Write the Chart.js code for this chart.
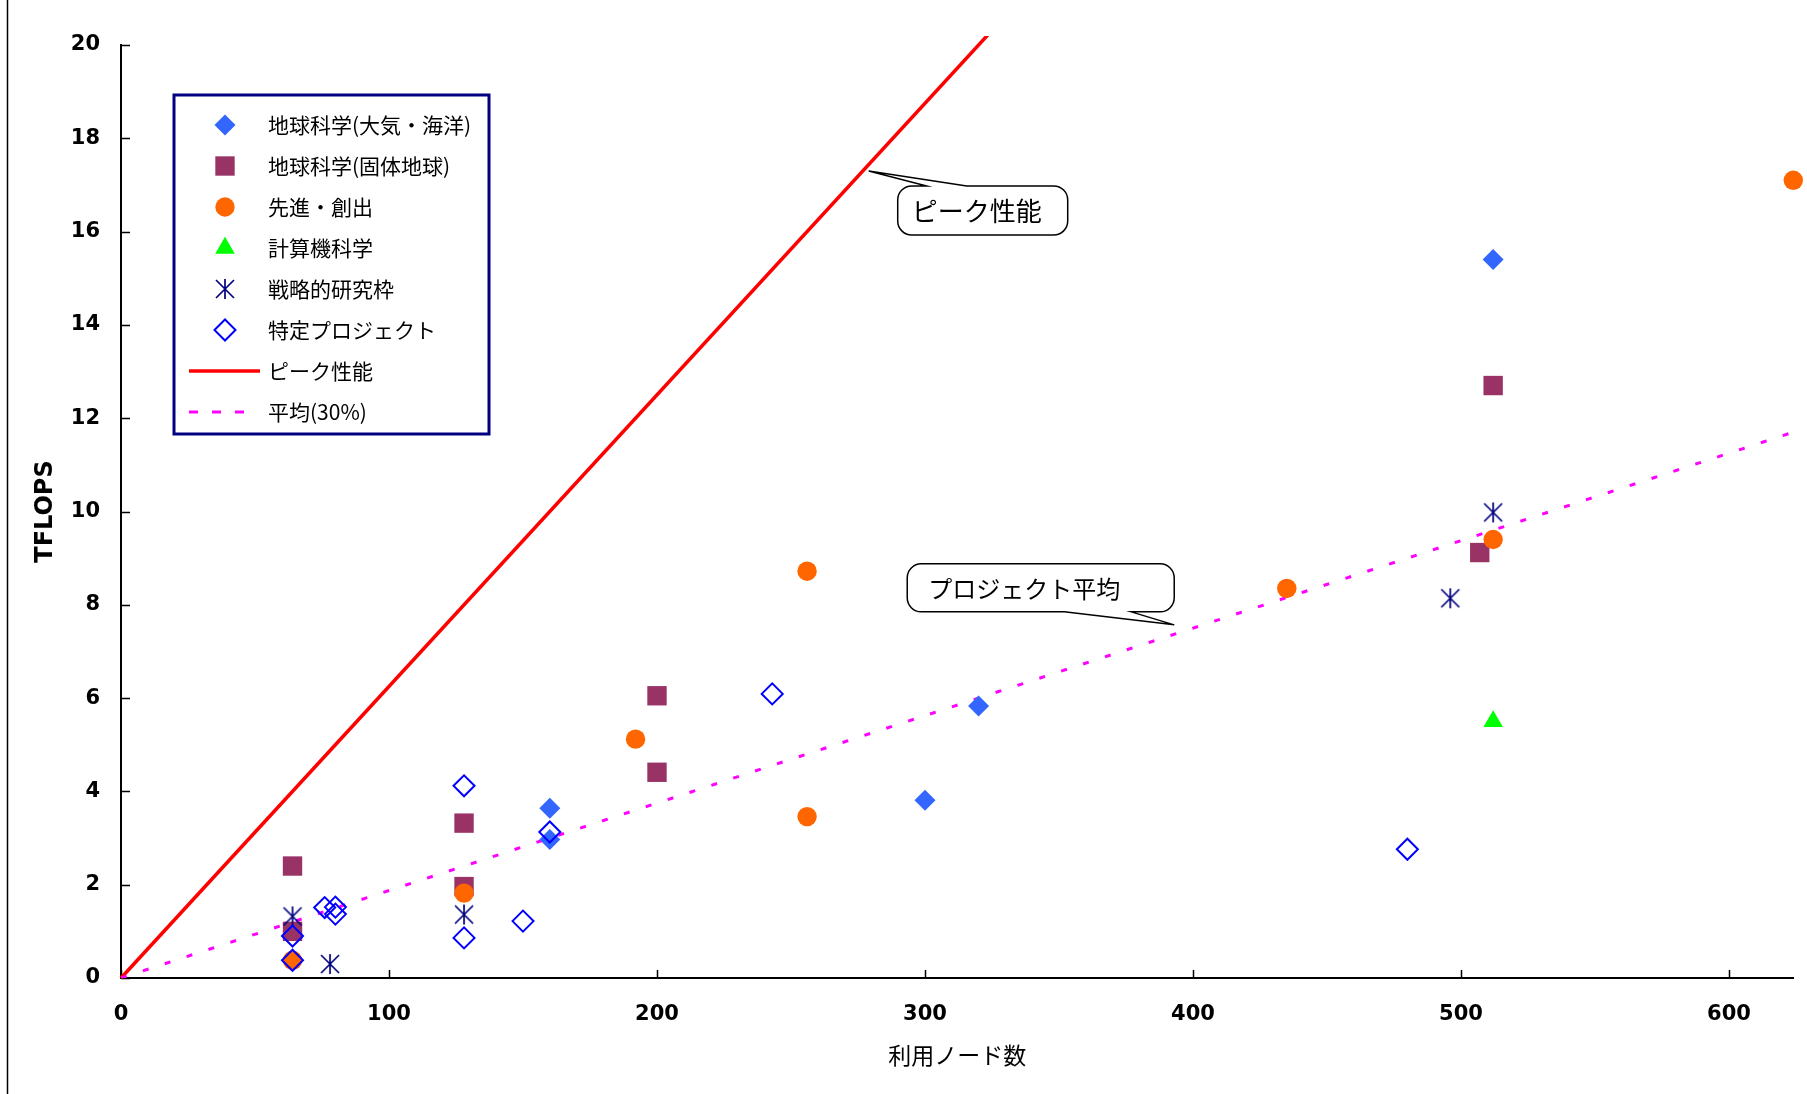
<!DOCTYPE html>
<html lang="ja">
<head>
<meta charset="utf-8">
<title>利用ノード数とTFLOPS</title>
<script src="https://cdn.jsdelivr.net/npm/chart.js@4.4.1/dist/chart.umd.min.js"></script>
<style>
  html, body { margin: 0; padding: 0; background: #fff; }
  canvas { display: block; }
</style>
</head>
<body>
<canvas id="graph" width="1807" height="1094"></canvas>
<script>
// 利用ノード数 (x) と実効性能 TFLOPS (y)
const atmoNodes = [512, 320, 300, 160, 160];
const atmoTflops = [15.4, 5.83, 3.81, 3.64, 2.97];

const solidNodes = [512, 507, 200, 200, 128, 128, 64, 64];
const solidTflops = [12.7, 9.12, 6.05, 4.41, 3.32, 1.96, 2.4, 1.0];

const frontierNodes = [624, 512, 435, 256, 256, 192, 128, 64];
const frontierTflops = [17.1, 9.4, 8.35, 8.72, 3.46, 5.12, 1.82, 0.38];

const computerNodes = [512];
const computerTflops = [5.5];

const strategicNodes = [512, 496, 128, 64, 78];
const strategicTflops = [9.98, 8.14, 1.36, 1.32, 0.3];

const specialNodes = [480, 243, 160, 128, 128, 150, 76, 80, 80, 64, 64];
const specialTflops = [2.76, 6.09, 3.13, 4.12, 0.86, 1.22, 1.51, 1.52, 1.37, 0.9, 0.38];

const peakNodes = [0, 336];
const peakTflops = [0, 21];

const avgNodes = [0, 624];
const avgTflops = [0, 11.7];

const seriesNames = [
    '地球科学(大気・海洋)', '地球科学(固体地球)', '先進・創出', '計算機科学',
    '戦略的研究枠', '特定プロジェクト', 'ピーク性能', '平均(30%)'
];

function toPoints(xs, ys) {
    return xs.map((x, i) => ({ x: x, y: ys[i] }));
}

// Excelの「*」マーカー（縦線＋×）
function makeAsterisk(size, color) {
    const c = document.createElement('canvas');
    c.width = size;
    c.height = size;
    const g = c.getContext('2d');
    g.strokeStyle = color;
    g.lineWidth = 1.7;
    const m = size / 2, r = size / 2 - 1;
    g.beginPath();
    g.moveTo(m, m - r); g.lineTo(m, m + r);
    g.moveTo(m - r * 0.9, m - r * 0.9); g.lineTo(m + r * 0.9, m + r * 0.9);
    g.moveTo(m + r * 0.9, m - r * 0.9); g.lineTo(m - r * 0.9, m + r * 0.9);
    g.stroke();
    return c;
}
const asterisk = makeAsterisk(22, '#000080');

// 吹き出し
const calloutList = [
    { text: 'ピーク性能', x: 279, y: 17.3, dx: 29, dy: 15, w: 170, h: 49, base: [29, 69], side: 'top', pad: 14, size: 26 },
    { text: 'プロジェクト平均', x: 393, y: 7.57, dx: -267, dy: -61, w: 267, h: 48, base: [157, 224], side: 'bottom', pad: 21, size: 24 }
];

function calloutPath(ctx, L, T, w, h, r, side, b0, b1, tx, ty) {
    const R = L + w, B = T + h;
    ctx.beginPath();
    ctx.moveTo(L + r, T);
    if (side === 'top') { ctx.lineTo(L + b0, T); ctx.lineTo(tx, ty); ctx.lineTo(L + b1, T); }
    ctx.lineTo(R - r, T);
    ctx.arcTo(R, T, R, T + r, r);
    ctx.lineTo(R, B - r);
    ctx.arcTo(R, B, R - r, B, r);
    if (side === 'bottom') { ctx.lineTo(L + b1, B); ctx.lineTo(tx, ty); ctx.lineTo(L + b0, B); }
    ctx.lineTo(L + r, B);
    ctx.arcTo(L, B, L, B - r, r);
    ctx.lineTo(L, T + r);
    ctx.arcTo(L, T, L + r, T, r);
    ctx.closePath();
}

const innerTicks = {
    id: 'innerTicks',
    beforeDatasetsDraw(chart) {
        const { ctx, chartArea: a, scales: { x, y } } = chart;
        ctx.save();
        ctx.strokeStyle = '#000';
        ctx.lineWidth = 1.5;
        ctx.beginPath();
        x.ticks.forEach(t => {
            const px = Math.round(x.getPixelForValue(t.value)) + 0.5;
            ctx.moveTo(px, a.bottom);
            ctx.lineTo(px, a.bottom - 8);
        });
        y.ticks.forEach(t => {
            const py = Math.round(y.getPixelForValue(t.value)) + 0.5;
            ctx.moveTo(a.left, py);
            ctx.lineTo(a.left + 9, py);
        });
        ctx.stroke();
        // 外枠の左線
        ctx.beginPath();
        ctx.moveTo(7.5, 0);
        ctx.lineTo(7.5, chart.height);
        ctx.stroke();
        ctx.restore();
    }
};

const legendBox = {
    id: 'legendBox',
    afterDraw(chart) {
        const ctx = chart.ctx;
        ctx.save();
        ctx.fillStyle = '#fff';
        ctx.fillRect(174, 95, 315, 339);
        ctx.strokeStyle = '#000080';
        ctx.lineWidth = 3;
        ctx.strokeRect(174, 95, 315, 339);

        chart.data.datasets.forEach((ds, i) => {
            const y = 125 + i * 41;
            ctx.save();
            if (ds.showLine) {
                ctx.strokeStyle = ds.borderColor;
                ctx.lineWidth = ds.borderWidth;
                ctx.setLineDash(ds.borderDash ? [9, 14] : []);
                ctx.beginPath();
                ctx.moveTo(189, y);
                ctx.lineTo(ds.borderDash ? 252 : 260, y);
                ctx.stroke();
            } else {
                ctx.fillStyle = ds.backgroundColor;
                ctx.strokeStyle = ds.borderColor;
                ctx.lineWidth = ds.borderWidth;
                Chart.helpers.drawPoint(ctx, {
                    pointStyle: ds.pointStyle,
                    radius: ds.pointRadius,
                    rotation: 0,
                    borderWidth: ds.borderWidth
                }, 225, y);
            }
            ctx.restore();
            ctx.fillStyle = '#000';
            ctx.font = '21px "Noto Sans CJK JP"';
            ctx.textBaseline = 'middle';
            ctx.fillText(ds.label, 268, y);
        });
        ctx.restore();
    }
};

const callouts = {
    id: 'callouts',
    afterDraw(chart) {
        const { ctx, scales: { x, y } } = chart;
        ctx.save();
        calloutList.forEach(c => {
            const tx = x.getPixelForValue(c.x);
            const ty = y.getPixelForValue(c.y);
            const L = tx + c.dx, T = ty + c.dy;
            calloutPath(ctx, L, T, c.w, c.h, 14, c.side, c.base[0], c.base[1], tx, ty);
            ctx.fillStyle = '#fff';
            ctx.fill();
            ctx.strokeStyle = '#000';
            ctx.lineWidth = 1.5;
            ctx.stroke();
            ctx.fillStyle = '#000';
            ctx.font = c.size + 'px "Noto Sans CJK JP"';
            ctx.textBaseline = 'middle';
            ctx.fillText(c.text, L + c.pad, T + c.h / 2 + 1);
        });
        ctx.restore();
    }
};

const tickFont = { family: 'DejaVu Sans', weight: 'bold', size: 21 };

const ctx = document.getElementById('graph').getContext('2d');
const myChart = new Chart(ctx, {
    type: 'scatter',
    data: {
        datasets: [{
            label: seriesNames[0],
            data: toPoints(atmoNodes, atmoTflops),
            pointStyle: 'rectRot',
            pointRadius: 10.5,
            backgroundColor: '#3366ff',
            borderColor: '#3366ff',
            borderWidth: 0,
            clip: false,
            order: 5
        }, {
            label: seriesNames[1],
            data: toPoints(solidNodes, solidTflops),
            pointStyle: 'rect',
            pointRadius: 13.7,
            backgroundColor: '#993366',
            borderColor: '#993366',
            borderWidth: 0,
            clip: false,
            order: 4
        }, {
            label: seriesNames[2],
            data: toPoints(frontierNodes, frontierTflops),
            pointStyle: 'circle',
            pointRadius: 9.7,
            backgroundColor: '#ff6600',
            borderColor: '#ff6600',
            borderWidth: 0,
            clip: false,
            order: 3
        }, {
            label: seriesNames[3],
            data: toPoints(computerNodes, computerTflops),
            pointStyle: 'triangle',
            pointRadius: 11.3,
            backgroundColor: '#00ff00',
            borderColor: '#00ff00',
            borderWidth: 0,
            clip: false,
            order: 2
        }, {
            label: seriesNames[4],
            data: toPoints(strategicNodes, strategicTflops),
            pointStyle: asterisk,
            pointRadius: 11,
            backgroundColor: '#000080',
            borderColor: '#000080',
            borderWidth: 0,
            clip: false,
            order: 1
        }, {
            label: seriesNames[5],
            data: toPoints(specialNodes, specialTflops),
            pointStyle: 'rectRot',
            pointRadius: 10.5,
            backgroundColor: 'rgba(0, 0, 0, 0)',
            borderColor: '#0000ff',
            borderWidth: 2,
            clip: false,
            order: 0
        }, {
            label: seriesNames[6],
            data: toPoints(peakNodes, peakTflops),
            showLine: true,
            pointRadius: 0,
            borderColor: '#ff0000',
            backgroundColor: '#ff0000',
            borderWidth: 3.5,
            clip: { left: 5, top: 9, right: 0, bottom: 5 },
            order: 7
        }, {
            label: seriesNames[7],
            data: toPoints(avgNodes, avgTflops),
            showLine: true,
            pointRadius: 0,
            borderColor: '#ff00ff',
            backgroundColor: '#ff00ff',
            borderWidth: 3,
            borderDash: [6, 17],
            order: 6
        }]
    },
    options: {
        responsive: false,
        animation: false,
        events: [],
        layout: { padding: { top: 45, right: 4, bottom: 0, left: 0 } },
        plugins: {
            legend: { display: false },
            tooltip: { enabled: false }
        },
        scales: {
            x: {
                type: 'linear',
                min: 0,
                max: 624,
                afterFit(s) {
                    s.height = 116;
                    s.paddingLeft = 0;
                    s.paddingRight = 0;
                },
                grid: { display: false, drawTicks: false },
                border: { display: true, color: '#000', width: 2 },
                ticks: {
                    stepSize: 100,
                    includeBounds: false,
                    padding: 24,
                    maxRotation: 0,
                    color: '#000',
                    font: tickFont
                },
                title: {
                    display: true,
                    text: '利用ノード数',
                    color: '#000',
                    font: { family: '"Noto Sans CJK JP"', size: 23 },
                    padding: { top: 0, bottom: 25 }
                }
            },
            y: {
                type: 'linear',
                min: 0,
                max: 20,
                afterFit(s) { s.width = 121; },
                grid: { display: false, drawTicks: false },
                border: { display: true, color: '#000', width: 2 },
                ticks: {
                    stepSize: 2,
                    padding: 21,
                    color: '#000',
                    font: tickFont
                },
                title: {
                    display: true,
                    text: 'TFLOPS',
                    color: '#000',
                    font: { family: 'DejaVu Sans', weight: 'bold', size: 24 },
                    padding: { top: 31, bottom: 0 }
                }
            }
        }
    },
    plugins: [innerTicks, legendBox, callouts]
});
</script>
</body>
</html>
